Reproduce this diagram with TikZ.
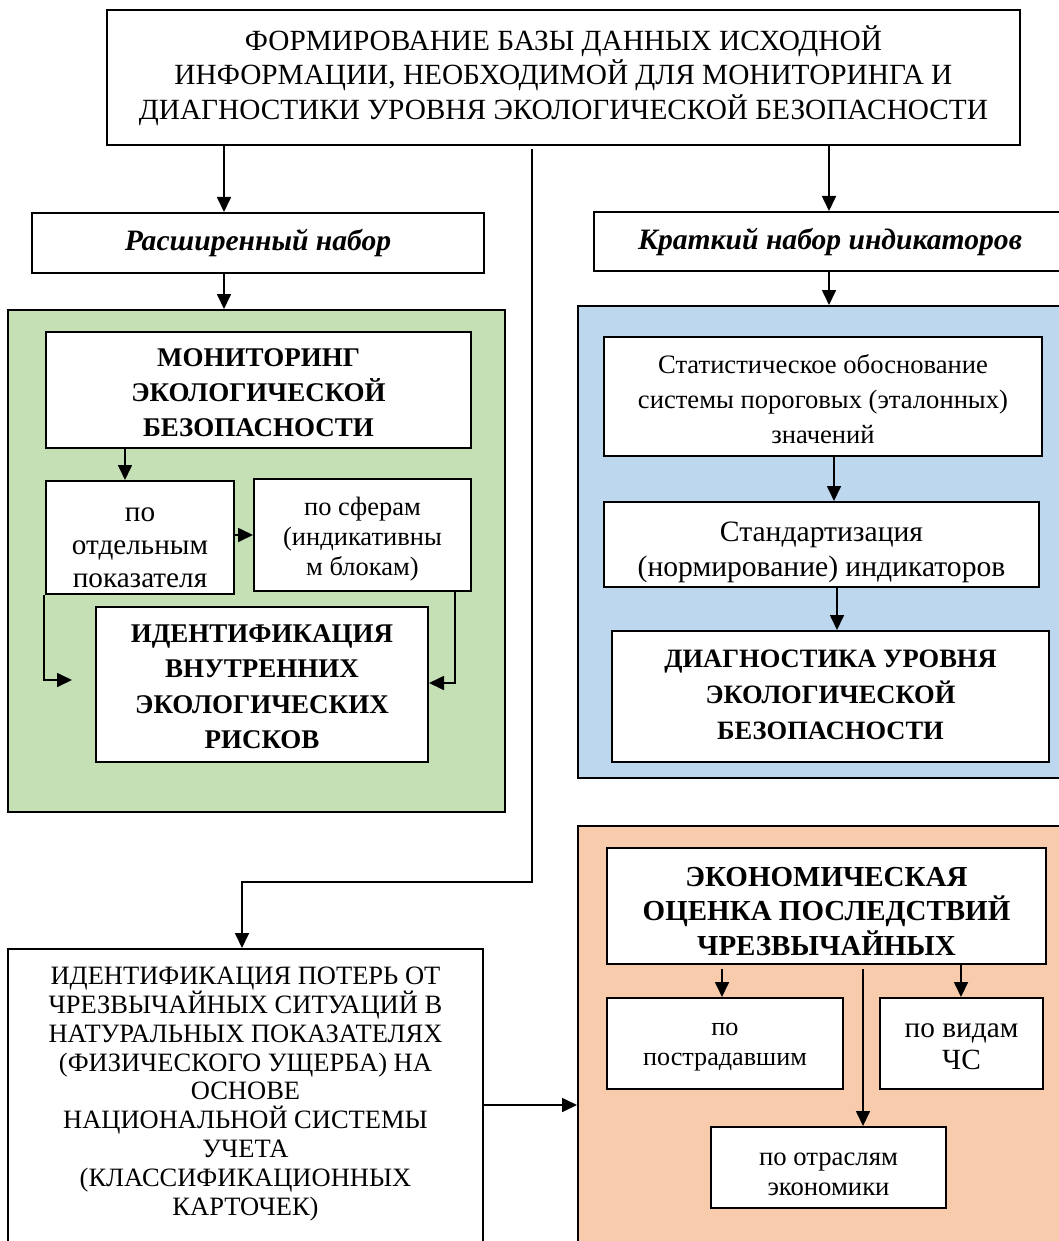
\documentclass[tikz,border=0pt]{standalone}
\usepackage{fontspec}
\setmainfont{Liberation Serif}
\usetikzlibrary{arrows.meta,calc}
\definecolor{gpanel}{HTML}{C5E0B4}
\definecolor{bpanel}{HTML}{BDD7EE}
\definecolor{opanel}{HTML}{F8CBAD}
\newcommand{\fs}[2]{\fontsize{#1pt}{#2pt}\selectfont}
% lower a centred multi-line text by #1 pt without changing its reported size
\newcommand{\lowr}[2]{\raisebox{-#1pt}[\height][\depth]{\begin{tabular}{@{}c@{}}#2\end{tabular}}}
\begin{document}
\begin{tikzpicture}[x=1pt,y=-1pt,
  box/.style={draw, line width=2pt, fill=white, inner sep=0pt, align=center},
  panel/.style={draw, line width=2pt, inner sep=0pt},
  arr/.style={line width=1.7pt, -{Triangle[length=15pt,width=14pt]}}]
\useasboundingbox (0,0) rectangle (1059,1241);
\fill[white] (0,0) rectangle (1059,1241);
% panels
\node[panel, fill=gpanel, minimum width=497, minimum height=502] (greenp) at (256.5,561) {};
\node[panel, fill=bpanel, minimum width=497, minimum height=472] (bluep) at (826.5,542) {};
\node[panel, fill=opanel, minimum width=497, minimum height=434] (orangep) at (826.5,1043) {};
% top
\node[box, minimum width=913, minimum height=135, font=\fs{29.3}{33}] (top) at (563.5,77.5)
  {\lowr{0}{ФОРМИРОВАНИЕ БАЗЫ ДАННЫХ ИСХОДНОЙ\\ИНФОРМАЦИИ, НЕОБХОДИМОЙ ДЛЯ МОНИТОРИНГА И\\ДИАГНОСТИКИ УРОВНЯ ЭКОЛОГИЧЕСКОЙ БЕЗОПАСНОСТИ}};
\node[box, minimum width=452, minimum height=60, font=\fs{29.6}{32}\bfseries\itshape] (ras) at (258,243) {Расширенный набор};
\node[box, minimum width=472, minimum height=59, font=\fs{29.6}{32}\bfseries\itshape] (krat) at (830,241.5) {Краткий набор индикаторов};
% green
\node[box, minimum width=425, minimum height=116, font=\fs{27}{35}\bfseries] (monit) at (258.5,390)
  {\lowr{4}{МОНИТОРИНГ\\ЭКОЛОГИЧЕСКОЙ\\БЕЗОПАСНОСТИ}};
\node[box, minimum width=188, minimum height=113, font=\fs{29.2}{33}] (otd) at (140,537.5)
  {\lowr{10}{по\\отдельным\\показателя}};
\node[box, minimum width=217, minimum height=112, font=\fs{26.5}{30}] (sfer) at (362.5,535)
  {\lowr{4}{по сферам\\(индикативны\\м блокам)}};
\node[box, minimum width=332, minimum height=155, font=\fs{27}{35.5}\bfseries] (ident) at (262,684.5)
  {\lowr{4}{ИДЕНТИФИКАЦИЯ\\ВНУТРЕННИХ\\ЭКОЛОГИЧЕСКИХ\\РИСКОВ}};
% blue
\node[box, minimum width=438, minimum height=119, font=\fs{26.6}{35}] (stat) at (823,396.5)
  {\lowr{5}{Статистическое обоснование\\системы пороговых (эталонных)\\значений}};
\node[box, minimum width=435, minimum height=85, font=\fs{29.6}{35}] (stand) at (821.5,544.5)
  {\lowr{7}{Стандартизация\\(нормирование) индикаторов}};
\node[box, minimum width=437, minimum height=131, font=\fs{26.5}{36}\bfseries] (diag) at (830.5,696.5)
  {\lowr{0}{ДИАГНОСТИКА УРОВНЯ\\ЭКОЛОГИЧЕСКОЙ\\БЕЗОПАСНОСТИ}};
% orange
\node[box, minimum width=439, minimum height=116, font=\fs{29}{33}\bfseries] (econ) at (826.5,906)
  {\lowr{8}{ЭКОНОМИЧЕСКАЯ\\ОЦЕНКА ПОСЛЕДСТВИЙ\\ЧРЕЗВЫЧАЙНЫХ}};
\node[box, minimum width=236, minimum height=91, font=\fs{26.2}{30}] (postr) at (725,1043.5)
  {\lowr{1}{по\\пострадавшим}};
\node[box, minimum width=163, minimum height=91, font=\fs{29.3}{32}] (vid) at (961.5,1043.5)
  {\lowr{4}{по видам\\ЧС}};
\node[box, minimum width=235, minimum height=81, font=\fs{26.7}{30}] (otr) at (828.5,1167.5)
  {\lowr{7}{по отраслям\\экономики}};
% bottom-left
\node[box, anchor=north, minimum width=475, minimum height=340] (poter) at (245.5,948) {};
\node[align=center, inner sep=0pt, font=\fs{26.5}{28.8}] (potertext) at (245.5,1094)
  {ИДЕНТИФИКАЦИЯ ПОТЕРЬ ОТ\\ЧРЕЗВЫЧАЙНЫХ СИТУАЦИЙ В\\НАТУРАЛЬНЫХ ПОКАЗАТЕЛЯХ\\(ФИЗИЧЕСКОГО УЩЕРБА) НА\\ОСНОВЕ\\НАЦИОНАЛЬНОЙ СИСТЕМЫ\\УЧЕТА\\(КЛАССИФИКАЦИОННЫХ\\КАРТОЧЕК)};
% connectors
\coordinate (xa) at (224,0);
\coordinate (xb) at (829,0);
\coordinate (bend) at (532,882);
\coordinate (xc) at (242,0);
\coordinate (xd) at (125,0);
\coordinate (ye) at (0,535);
\coordinate (lf) at (44,680);
\coordinate (rt) at (455,683);
\coordinate (xf) at (834,0);
\coordinate (xg) at (837,0);
\coordinate (xh) at (722,0);
\coordinate (xi) at (863,0);
\coordinate (xj) at (961,0);
\coordinate (yk) at (0,1105);
\draw[arr] (top.south -| xa) -- (ras.north -| xa);
\draw[arr] (ras.south -| xa) -- (greenp.north -| xa);
\draw[arr] (top.south -| xb) -- (krat.north -| xb);
\draw[arr] (krat.south -| xb) -- (bluep.north -| xb);
\draw[arr] ($(top.south -| bend)+(0,3)$) -- (bend) -| (poter.north -| xc);
\draw[arr] (monit.south -| xd) -- (otd.north -| xd);
\draw[arr] (otd.east |- ye) -- (sfer.west |- ye);
\draw[arr, shorten >=23pt] (otd.south -| lf) -- (lf) -- (ident.west |- lf);
\draw[arr] (sfer.south -| rt) -- (rt) -- (ident.east |- rt);
\draw[arr] (stat.south -| xf) -- (stand.north -| xf);
\draw[arr] (stand.south -| xg) -- (diag.north -| xg);
\draw[arr] ($(econ.south -| xh)+(0,4)$) -- (postr.north -| xh);
\draw[arr] ($(econ.south -| xi)+(0,4)$) -- (otr.north -| xi);
\draw[arr] (econ.south -| xj) -- (vid.north -| xj);
\draw[arr] (poter.east |- yk) -- (orangep.west |- yk);
\end{tikzpicture}
\end{document}
